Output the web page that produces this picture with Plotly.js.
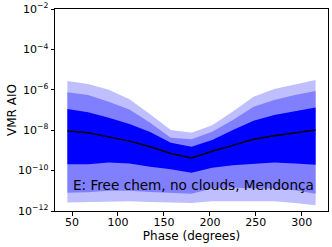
<!DOCTYPE html>
<html><head><meta charset="utf-8">
<script src="https://cdn.plot.ly/plotly-3.0.1.min.js"></script>
<style>body{margin:0;padding:0;background:#fff}#c{width:332px;height:247px}</style>
</head><body><div id="c"></div>
<script>
const phase = [45, 67.5, 90, 112.5, 135, 157.5, 180, 202.5, 225, 247.5, 270, 292.5, 315];
// log10 VMR values
const lightTop = [-5.56, -5.71, -6.00, -6.47, -7.21, -7.99, -8.13, -7.75, -7.08, -6.34, -5.96, -5.72, -5.51];
const midTop   = [-6.12, -6.26, -6.59, -6.97, -7.63, -8.37, -8.45, -8.08, -7.50, -6.84, -6.50, -6.26, -6.06];
const darkTop  = [-6.95, -7.11, -7.38, -7.69, -8.09, -8.62, -8.82, -8.49, -7.99, -7.53, -7.25, -7.05, -6.88];
const median   = [-8.04, -8.13, -8.33, -8.54, -8.82, -9.15, -9.37, -9.04, -8.75, -8.45, -8.27, -8.13, -7.99];
const darkBot  = [-9.68, -9.68, -9.60, -9.65, -9.81, -9.93, -10.11, -9.86, -9.73, -9.65, -9.60, -9.65, -9.71];
const midBot   = [-11.10, -11.07, -11.00, -11.00, -11.06, -11.10, -11.14, -10.89, -10.84, -10.89, -10.89, -10.97, -11.14];
const lightBot = [-11.58, -11.55, -11.52, -11.52, -11.55, -11.58, -11.60, -11.52, -11.52, -11.50, -11.52, -11.60, -11.72];
const yTickVals = [1e-12, 1e-10, 1e-8, 1e-6, 1e-4, 1e-2];
const yTickText = ['10<sup>−12</sup>', '10<sup>−10</sup>', '10<sup>−8</sup>', '10<sup>−6</sup>', '10<sup>−4</sup>', '10<sup>−2</sup>'];
const xTickVals = [50, 100, 150, 200, 250, 300];
const label = "E: Free chem, no clouds, Mendonça";

const p = a => a.map(v => Math.pow(10, v));
function band(lo, hi, col) {
  return [
    {x: phase, y: p(lo), mode: 'lines', line: {width: 0, color: col}, hoverinfo: 'skip', showlegend: false},
    {x: phase, y: p(hi), mode: 'lines', line: {width: 0, color: col}, fill: 'tonexty', fillcolor: col, hoverinfo: 'skip', showlegend: false}
  ];
}
const data = [
  ...band(lightBot, lightTop, 'rgb(191,191,255)'),
  ...band(midBot, midTop, 'rgb(128,128,255)'),
  ...band(darkBot, darkTop, 'rgb(0,0,255)'),
  {x: phase, y: p(median), mode: 'lines', line: {width: 1.5, color: 'black'}, showlegend: false}
];
const tf = {family: 'DejaVu Sans', size: 11, color: 'black'};
const layout = {
  width: 332, height: 247,
  margin: {l: 55, r: 4, t: 9, b: 36},
  paper_bgcolor: 'white', plot_bgcolor: 'white',
  showlegend: false,
  font: tf,
  xaxis: {
    range: [31.5, 328.5], tickvals: xTickVals,
    ticks: 'outside', ticklen: 3.5, tickwidth: 1, tickcolor: 'black',
    showline: true, linecolor: 'black', linewidth: 1, mirror: true,
    showgrid: false, zeroline: false, ticklabelstandoff: -3,
    tickfont: tf,
    title: {text: 'Phase (degrees)', font: {family: 'DejaVu Sans', size: 12, color: 'black'}, standoff: 0}
  },
  yaxis: {
    type: 'log', range: [-12, -2], tickvals: yTickVals, ticktext: yTickText,
    ticks: 'outside', ticklen: 3.5, tickwidth: 1, tickcolor: 'black',
    showline: true, linecolor: 'black', linewidth: 1, mirror: true,
    showgrid: false, zeroline: false,
    tickfont: tf
  },
  annotations: [{
    text: label, xref: 'paper', yref: 'paper', x: 0.06, y: 0.13,
    xanchor: 'left', yanchor: 'middle', showarrow: false,
    font: {family: 'DejaVu Sans', size: 13.6, color: 'black'}
  }, {
    text: 'VMR AIO', xref: 'paper', yref: 'paper', x: -0.1575, y: 0.5,
    xanchor: 'center', yanchor: 'middle', textangle: -90, showarrow: false,
    font: {family: 'DejaVu Sans', size: 12, color: 'black'}
  }]
};
Plotly.newPlot('c', data, layout, {staticPlot: true, displayModeBar: false});
</script></body></html>
